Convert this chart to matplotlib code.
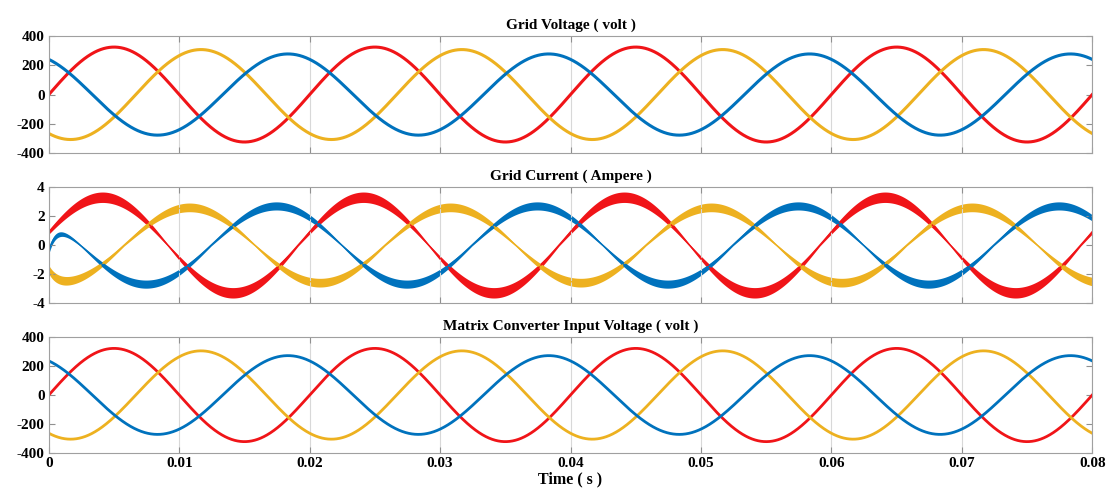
import numpy as np
import matplotlib
matplotlib.use('Agg')
import matplotlib.pyplot as plt

plt.rcParams['font.family'] = ['Liberation Serif', 'DejaVu Serif']
plt.rcParams['font.weight'] = 'bold'
plt.rcParams['axes.unicode_minus'] = False

f_grid = 50.0                       # Hz
t_end = 0.08                        # s
phase_names = ['a', 'b', 'c']
phase_colors = ['#F01418', '#EDB120', '#0072BD']

# grid voltage: peak (V) and phase angle (deg)
vg_peak = [325, 308, 278]
vg_phase = [0, -120, 120]

# grid current: peak (A), phase (deg), start value (A), band half width at peak / zero (A)
ig_peak = [3.3, 2.6, 2.7]
ig_phase = [16, -104, 136]
ig_start = [0.9, -1.7, -0.4]
ig_tau = 0.0006
ig_band_peak = [0.36, 0.30, 0.28]
ig_band_zero = [0.07, 0.06, 0.06]

# matrix converter input voltage
vm_peak = [322, 305, 272]
vm_phase = [0, -120, 120]

titles = ['Grid Voltage ( volt )', 'Grid Current ( Ampere )',
          'Matrix Converter Input Voltage ( volt )']
xtick_vals = [0, 0.01, 0.02, 0.03, 0.04, 0.05, 0.06, 0.07, 0.08]
xtick_labels = ['0', '0.01', '0.02', '0.03', '0.04', '0.05', '0.06', '0.07', '0.08']
v_ticks = [-400, -200, 0, 200, 400]
i_ticks = [-4, -2, 0, 2, 4]

##########################################################################

t = np.linspace(0, t_end, 4000)
w = 2 * np.pi * f_grid

fig = plt.figure(figsize=(11.1, 4.95), dpi=100)
ax_pos = [[0.044, 0.691, 0.940, 0.236],
          [0.044, 0.388, 0.940, 0.234],
          [0.044, 0.085, 0.940, 0.234]]
axes = [fig.add_axes(p) for p in ax_pos]

# top: grid voltage
for k in range(3):
    v = vg_peak[k] * np.sin(w * t + np.deg2rad(vg_phase[k]))
    axes[0].plot(t, v, color=phase_colors[k], lw=2.2)

# middle: grid current, drawn as a band for the switching ripple
for k in range(3):
    s = np.sin(w * t + np.deg2rad(ig_phase[k]))
    steady = ig_peak[k] * s
    i = steady + (ig_start[k] - steady[0]) * np.exp(-t / ig_tau)
    half = ig_band_zero[k] + (ig_band_peak[k] - ig_band_zero[k]) * np.abs(s)
    axes[1].fill_between(t, i - half, i + half, color=phase_colors[k], lw=0)
    axes[1].plot(t, i, color=phase_colors[k], lw=1.0)

# bottom: matrix converter input voltage
for k in range(3):
    v = vm_peak[k] * np.sin(w * t + np.deg2rad(vm_phase[k]))
    axes[2].plot(t, v, color=phase_colors[k], lw=2.0)

for n, ax in enumerate(axes):
    ax.set_xlim(0, t_end)
    ax.set_xticks(xtick_vals)
    if n == 1:
        ax.set_ylim(-4, 4)
        ax.set_yticks(i_ticks)
    else:
        ax.set_ylim(-400, 400)
        ax.set_yticks(v_ticks)
    if n == 2:
        ax.set_xticklabels(xtick_labels)
        ax.set_xlabel('Time ( s )', fontsize=11.5, fontweight='bold', labelpad=1)
    else:
        ax.set_xticklabels([])
    ax.set_title(titles[n], fontsize=11, fontweight='bold', pad=5)
    ax.grid(True, axis='x', color='#d8d8d8', lw=0.8)
    ax.tick_params(direction='in', length=4, labelsize=11, color='#909090',
                   top=True, right=True, pad=3)
    for sp in ax.spines.values():
        sp.set_color('#a0a0a0')
        sp.set_linewidth(0.8)
    for lab in ax.get_xticklabels() + ax.get_yticklabels():
        lab.set_fontweight('bold')

fig.savefig('out.png', dpi=100)
